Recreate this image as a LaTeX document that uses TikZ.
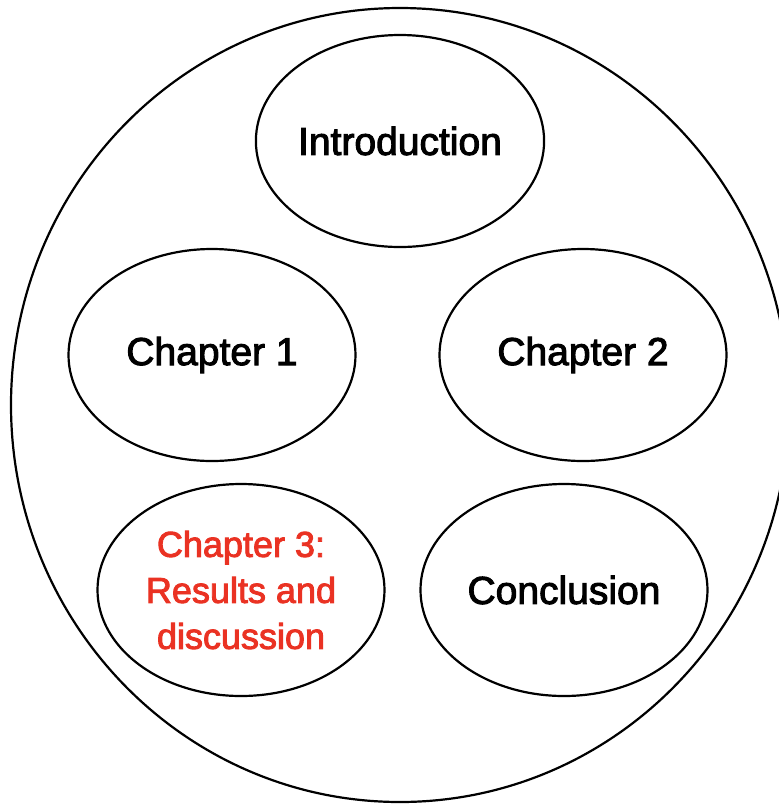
\documentclass[tikz,border=0pt]{standalone}
\usepackage{fontspec}
\setmainfont{Liberation Sans}
\newfontfamily\medfont{Liberation Sans}[FakeBold=2.5]
\usetikzlibrary{shapes.geometric}
\definecolor{resultred}{RGB}{234,50,35}
\tikzset{
  chapter/.style={draw, ellipse, line width=1.1pt, minimum width=143.5pt, minimum height=106pt,
    inner sep=0pt, align=center, font=\medfont\fontsize{19.5}{23}\selectfont},
}
\begin{document}
\begin{tikzpicture}[x=0.5pt,y=-0.5pt]
        \useasboundingbox (0,0) rectangle (779,805);
        \clip (0,0) rectangle (779,805);
        \node[draw, ellipse, line width=1.1pt, minimum width=389pt, minimum height=397pt, inner sep=0pt] (thesis) at (400,405) {};

        \node[chapter] (intro) at (400,141) {Introduction};

        \node[chapter] (chapone) at (212,355) {Chapter 1};
        \node[chapter] (chaptwo) at (583,355) {Chapter 2};

        \node[chapter, text=resultred, font=\medfont\fontsize{18}{23}\selectfont] (chapthree) at (241,590) {Chapter 3:\\Results and\\discussion};
        \node[chapter] (concl) at (564,590) {Conclusion};
    \end{tikzpicture}
\end{document}
